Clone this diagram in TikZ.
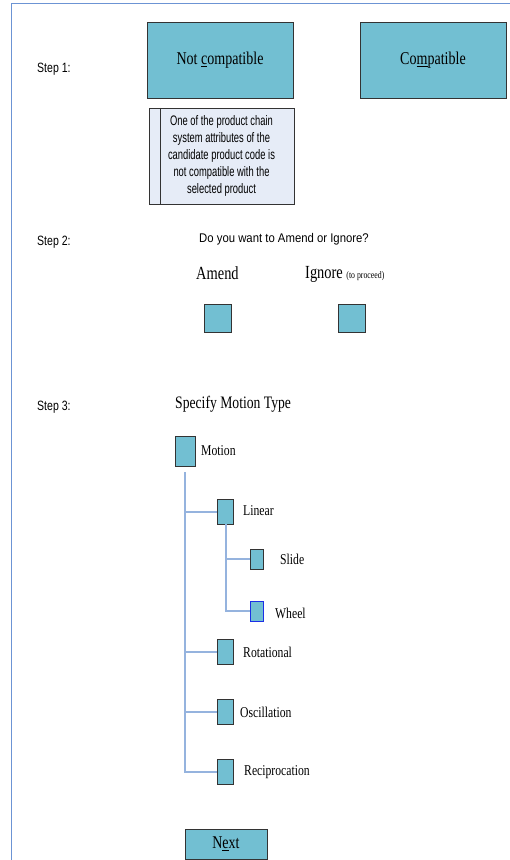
\documentclass[tikz,border=0pt]{standalone}
\usepackage{fontspec}
\setmainfont{Liberation Serif}[FakeStretch=0.78]
\newfontfamily\uisans{Liberation Sans}[FakeStretch=0.78]
\newfontfamily\notesans{Liberation Sans}[FakeStretch=0.68]
\newfontfamily\asksans{Liberation Sans}[FakeStretch=0.9]
\usepackage{xcolor}
\usepackage{tikz}
\usetikzlibrary{positioning,calc}
\definecolor{boxteal}{HTML}{72BFD2}
\definecolor{notefill}{HTML}{E6ECF7}
\definecolor{framebl}{HTML}{6C94D4}
\definecolor{treebl}{HTML}{95B3DE}
\definecolor{selbl}{HTML}{1C2FE6}

\begin{document}
\begin{tikzpicture}[x=1pt,y=-1pt,
    bigbox/.style={draw=black!80,fill=boxteal,minimum width=146pt,minimum height=76pt,inner sep=0pt,font=\fontsize{18}{20}\selectfont},
    tick/.style={draw=black!80,fill=boxteal,inner sep=0pt},
    steplabel/.style={anchor=west,inner sep=0pt,font=\uisans\fontsize{13.5}{15}\selectfont},
    itemlabel/.style={anchor=west,inner sep=0pt,font=\fontsize{15}{17}\selectfont},
    branch/.style={draw=treebl,line width=2pt}]
    \useasboundingbox (0,0) rectangle (510,860);
    % Frame
    \draw[framebl,line width=1.5pt] (11.5,860) -- (11.5,3.5) -- (510,3.5);
    % Step 1
    \node[steplabel] (s1) at (37,69) {Step 1:};
    \node[bigbox] (notcomp) at (220,60) {Not \underline{c}ompatible};
    \node[bigbox] (comp) at (433,60) {Co\underline{m}patible};
    \node[draw=black!80,fill=notefill,minimum width=145pt,minimum height=96pt,inner sep=0pt,align=center,
        font=\notesans\fontsize{13.8}{17.2}\selectfont] (note) at (221.5,156)
        {One of the product chain\\system attributes of the\\candidate product code is\\not compatible with the\\selected product};
    \draw[black!80] ([xshift=11pt]note.north west) -- ([xshift=11pt]note.south west);
    % Step 2
    \node[steplabel] (s2) at (37,242) {Step 2:};
    \node[inner sep=0pt,font=\asksans\fontsize{12.6}{14}\selectfont] (ask) at (284,239) {Do you want to Amend or Ignore?};
    \node[anchor=west,inner sep=0pt,font=\fontsize{18.5}{20}\selectfont] (amendlbl) at (196,273) {Amend};
    \node[anchor=west,inner sep=0pt,font=\fontsize{18.5}{20}\selectfont] (ignorelbl) at (305,274) {Ignore {\fontsize{10}{12}\selectfont(to proceed)}};
    \node[tick,minimum width=27pt,minimum height=28pt] (amend) at (217.5,318) {};
    \node[tick,minimum width=27pt,minimum height=28pt] (ignore) at (351.5,318) {};
    % Step 3
    \node[steplabel] (s3) at (37,407) {Step 3:};
    \node[anchor=west,inner sep=0pt,font=\fontsize{17.5}{20}\selectfont] (spec) at (175,404) {Specify Motion Type};
    \node[tick,minimum width=20pt,minimum height=30pt] (motion) at (185,451) {};
    \node[itemlabel] at (201,451) {Motion};
    \node[tick,minimum width=16pt,minimum height=25pt] (linear) at (225,511.5) {};
    \node[itemlabel] at (243,511) {Linear};
    \node[tick,minimum width=13pt,minimum height=20pt] (slide) at (256.5,559) {};
    \node[itemlabel] at (280,559) {Slide};
    \node[tick,draw=selbl,thick,minimum width=13pt,minimum height=20pt] (wheel) at (256.5,611) {};
    \node[itemlabel] at (275,613) {Wheel};
    \node[tick,minimum width=16pt,minimum height=25pt] (rot) at (225,651.5) {};
    \node[itemlabel] at (243,652) {Rotational};
    \node[tick,minimum width=16pt,minimum height=25pt] (osc) at (225,711.5) {};
    \node[itemlabel] at (240,712) {Oscillation};
    \node[tick,minimum width=16pt,minimum height=25pt] (recip) at (225,771.5) {};
    \node[itemlabel] at (244,772) {Reciprocation};
    % Tree lines
    \coordinate (trunk) at ([yshift=-6pt]motion.south);
    \foreach \n in {linear,rot,osc,recip}
        \draw[branch] (trunk) |- (\n.west);
    \foreach \n in {slide,wheel}
        \draw[branch] ([xshift=1pt]linear.south) |- (\n.west);
    % Next button
    \node[tick,minimum width=82pt,minimum height=30pt,font=\fontsize{18}{20}\selectfont] (next) at (226,844) {N\underline{e}xt};
\end{tikzpicture}
\end{document}
